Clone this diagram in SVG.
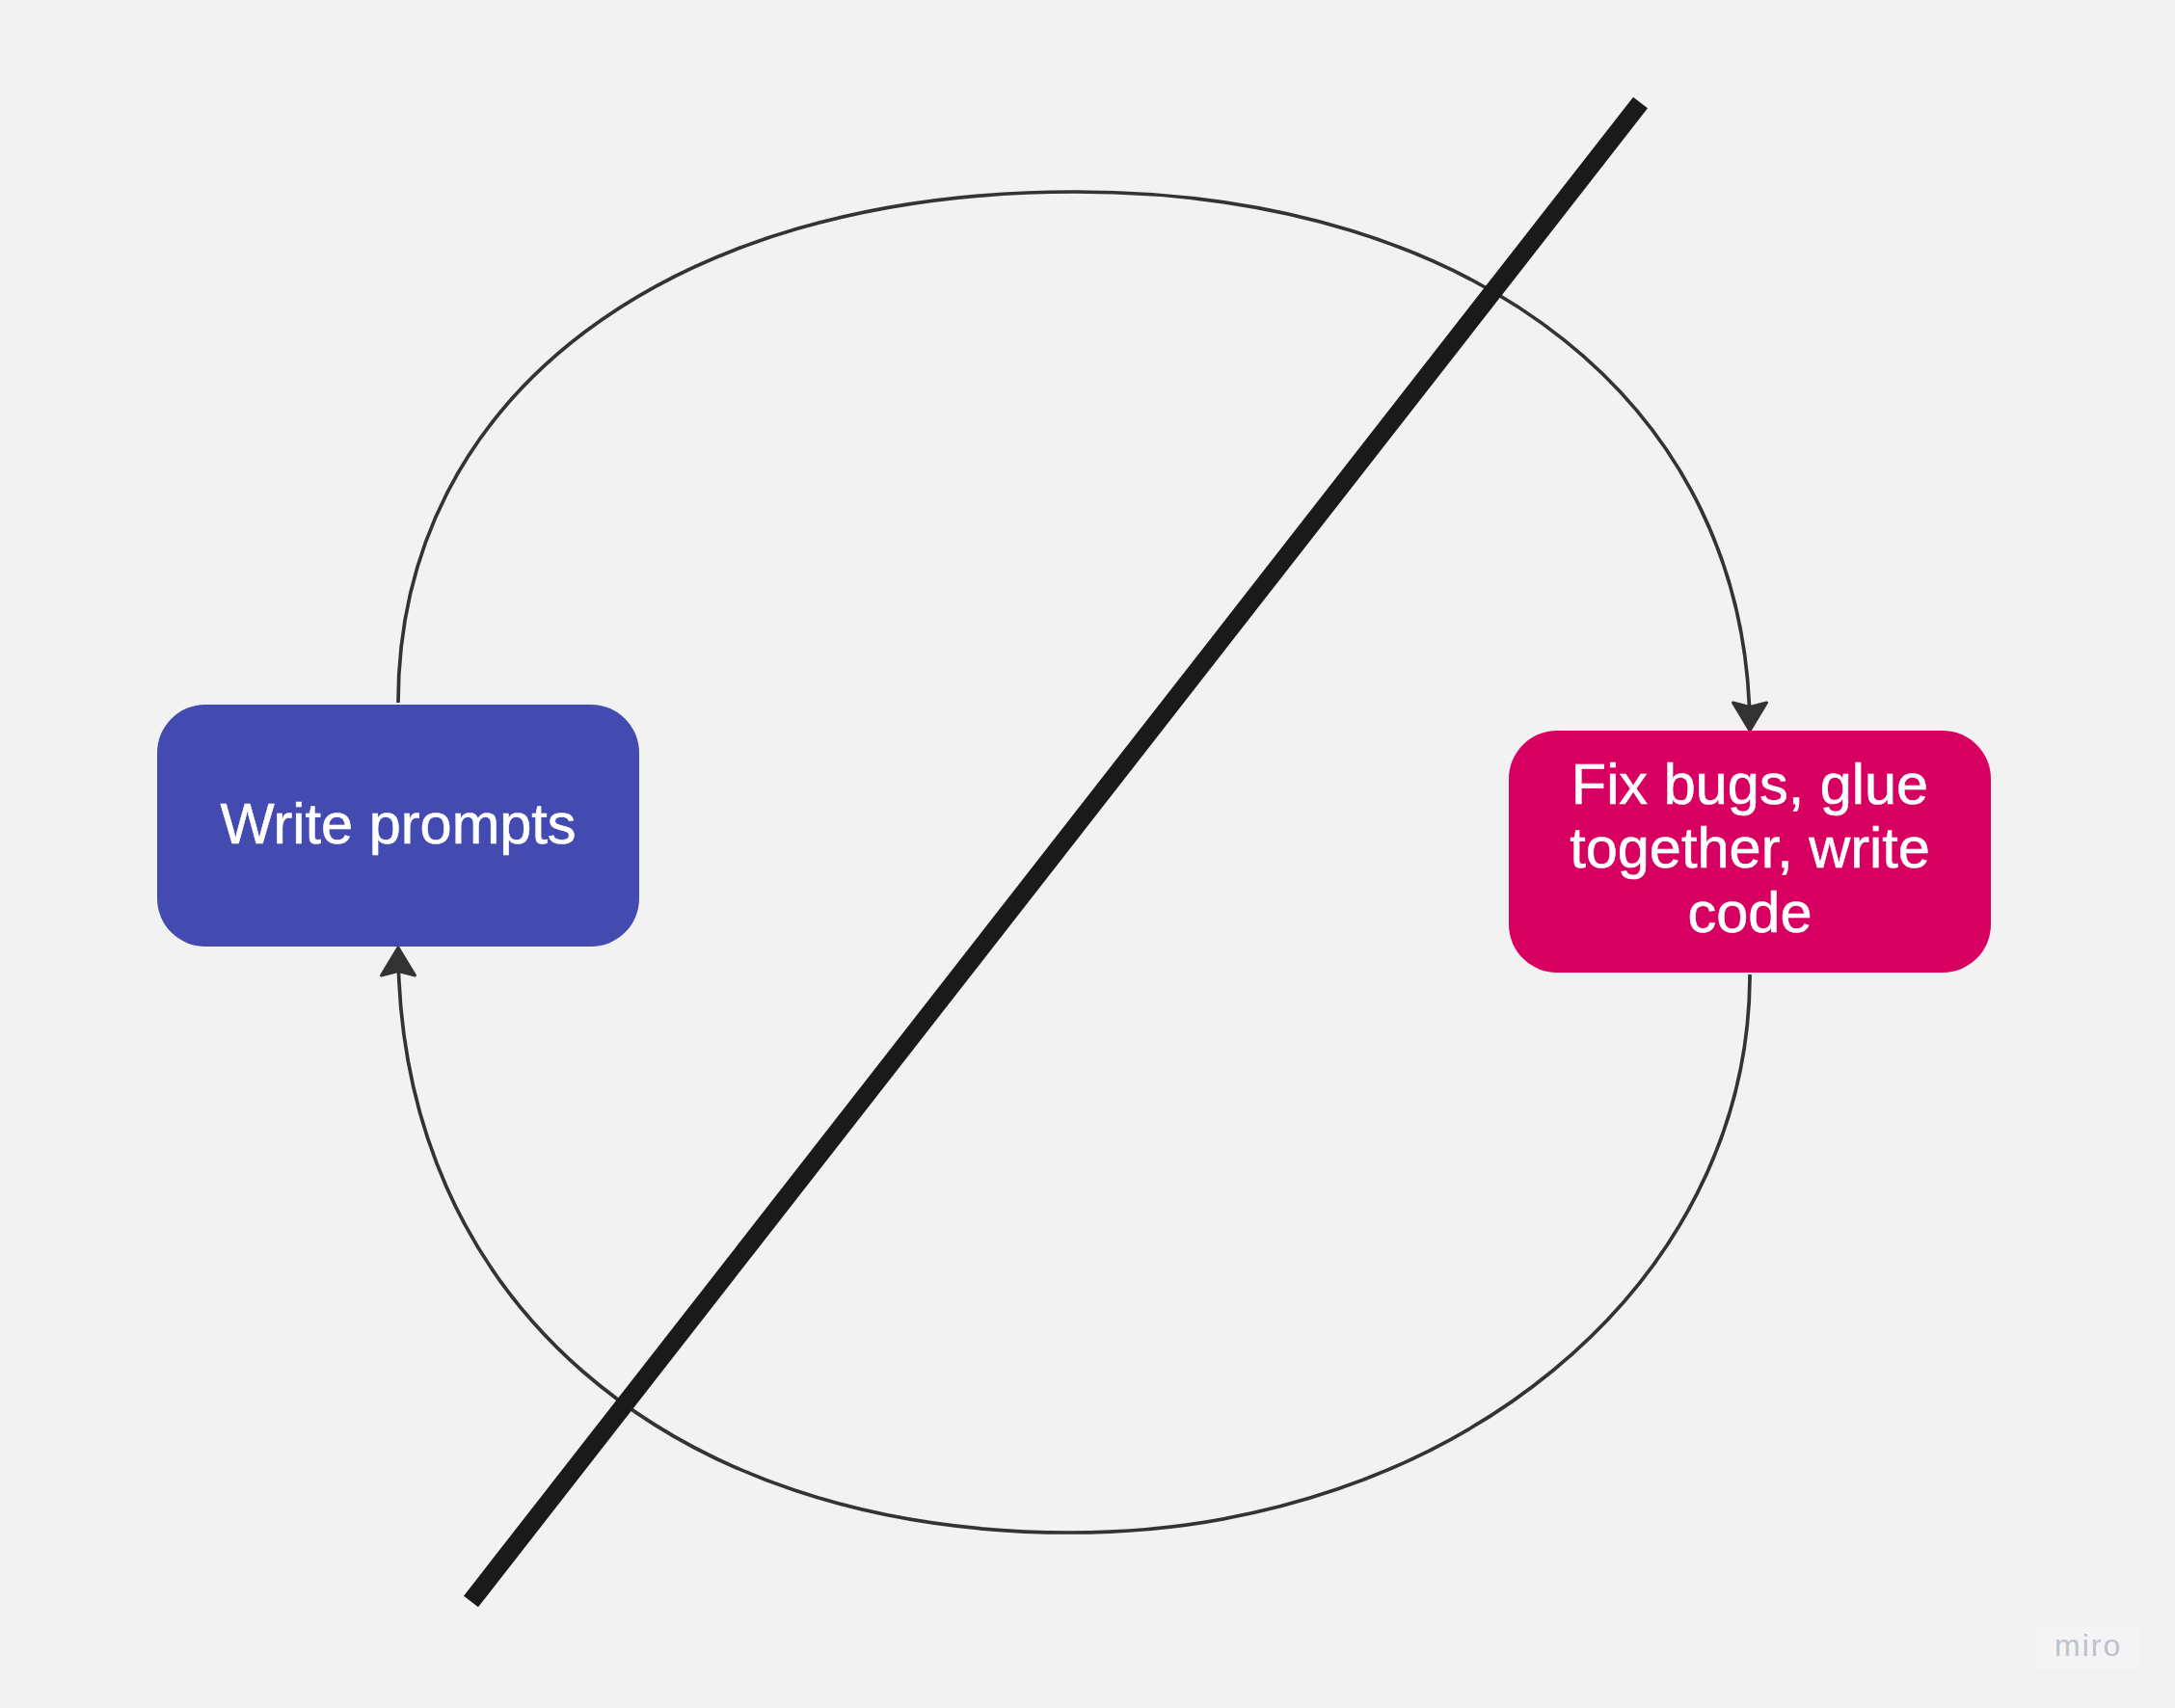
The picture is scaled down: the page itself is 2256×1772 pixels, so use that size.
<svg xmlns="http://www.w3.org/2000/svg" width="2256" height="1772" viewBox="0 0 2256 1772">
  <style>
    .label { font-family: "Liberation Sans", Arial, sans-serif; font-size: 59.5px; fill: #ffffff; stroke: #ffffff; stroke-width: 0.6; text-anchor: middle; }
    .conn { fill: none; stroke: #333333; stroke-width: 3.7; }
    .slash { stroke: #1a1a1a; stroke-width: 19; stroke-linecap: butt; }
    .wm { font-family: "Liberation Sans", Arial, sans-serif; font-size: 32px; fill: #bfc1cc; letter-spacing: 2px; }
  </style>
  <defs>
    <marker id="arrow" markerUnits="userSpaceOnUse" viewBox="-34 -22 38 44" refX="0" refY="0" markerWidth="38" markerHeight="44" orient="auto">
      <path d="M0,0 L-29,-17.5 L-24.5,0 L-29,17.5 Z" fill="#333333" stroke="#333333" stroke-width="3" stroke-linejoin="round"/>
    </marker>
  </defs>
  <rect width="2256" height="1772" fill="#f2f2f2"/>

  <g id="connectors">
    <path id="edge-top" class="conn" marker-end="url(#arrow)" d="M413,729 C413,411 694,199 1115,199 C1535,199 1815,423 1815,758"/>
    <path id="edge-bottom" class="conn" marker-end="url(#arrow)" d="M1815,1011 C1815,1335 1505,1590 1110,1590 C692,1590 413,1347 413,983"/>
  </g>

  <g id="node-write-prompts">
    <rect x="163" y="731" width="500" height="251" rx="50" ry="50" fill="#434bb1"/>
    <text class="label" x="413" y="875">Write prompts</text>
  </g>

  <g id="node-fix-bugs">
    <rect x="1565" y="758" width="500" height="251" rx="50" ry="50" fill="#d70060"/>
    <text class="label" x="1815" y="834">Fix bugs, glue</text>
    <text class="label" x="1815" y="900">together, write</text>
    <text class="label" x="1815" y="967">code</text>
  </g>

  <g id="slash">
    <line class="slash" x1="1701.5" y1="106.5" x2="488.5" y2="1661.5"/>
  </g>

  <g id="watermark">
    <rect x="2113" y="1686" width="106" height="46" fill="#f4f4f4"/>
    <text class="wm" x="2131" y="1718">miro</text>
  </g>
</svg>
